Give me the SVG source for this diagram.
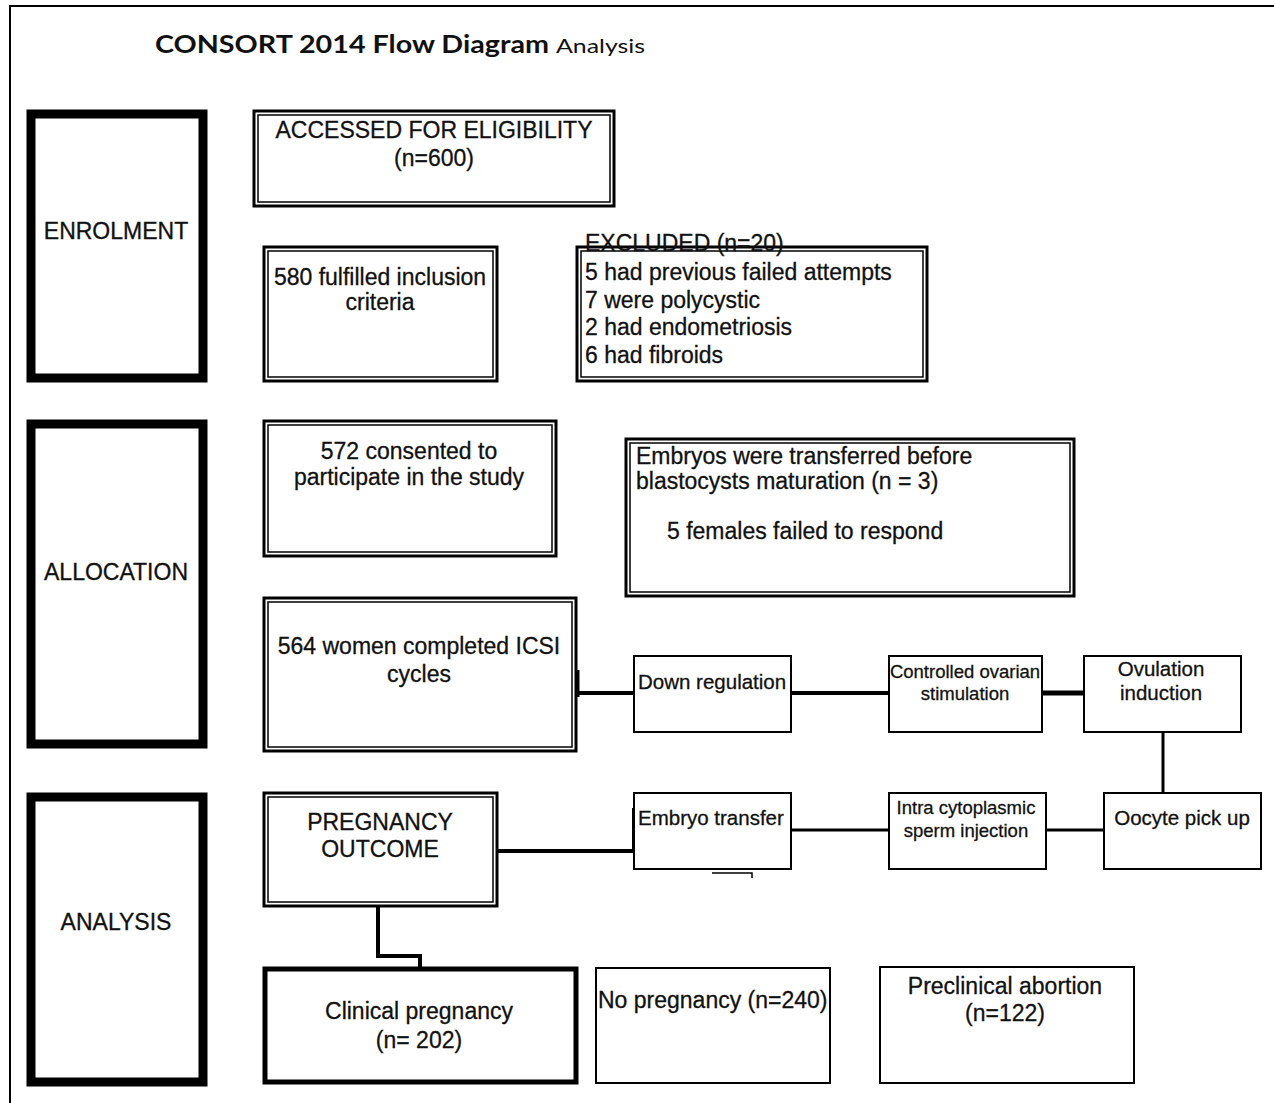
<svg xmlns="http://www.w3.org/2000/svg" width="1274" height="1103" viewBox="0 0 1274 1103">
<style>
text{font-family:"Liberation Sans",Arial,sans-serif;font-size:23px;fill:#111;stroke:#111;stroke-width:0.3}
.c{text-anchor:middle}
.s{font-size:20.5px}
.xs{font-size:18.5px}
.stage{fill:#fff;stroke:#000;stroke-width:9}
.thin{fill:#fff;stroke:#000;stroke-width:2}
.dbl-o{fill:#fff;stroke:#000;stroke-width:3}
.dbl-i{fill:none;stroke:#000;stroke-width:1.5}
.thick{fill:#fff;stroke:#000;stroke-width:5}
.conn{fill:none;stroke:#000;stroke-width:4}
.title{font-family:Lato,"Liberation Sans",sans-serif;font-weight:bold;font-size:25px;stroke:none}
</style>
<rect width="1274" height="1103" fill="#fff"/>
<path d="M10 1103 V6 H1274" fill="none" stroke="#000" stroke-width="2"/>
<text class="title" x="155" y="53" textLength="394" lengthAdjust="spacingAndGlyphs">CONSORT 2014 Flow Diagram</text>
<text x="556" y="53" style="font-family:Lato,'Liberation Sans',sans-serif;font-size:19px;stroke:none" textLength="89" lengthAdjust="spacingAndGlyphs">Analysis</text>

<g id="connectors">
<path class="conn" d="M577 693 H634"/>
<path class="conn" d="M577 670 V697" style="stroke-width:5"/>
<path class="conn" d="M791 693 H889"/>
<path class="conn" d="M1042 693 H1084" style="stroke-width:5"/>
<path class="conn" d="M1163 732 V792" style="stroke-width:3"/>
<path class="conn" d="M1104 830 H1046" style="stroke-width:3"/>
<path class="conn" d="M889 830 H791" style="stroke-width:3"/>
<path class="conn" d="M498 851 H634"/>
<path class="conn" d="M634 808 V853"/>
<path class="conn" d="M378 907 V956 H420 V967"/>
<path d="M712 873 H752 V878" fill="none" stroke="#000" stroke-width="1.5"/>
</g>

<g id="enrolment"><rect class="stage" x="31" y="114" width="172" height="264"/><text class="c" x="116" y="239">ENROLMENT</text></g>
<g id="allocation"><rect class="stage" x="31" y="424" width="172" height="320"/><text class="c" x="116" y="580">ALLOCATION</text></g>
<g id="analysis"><rect class="stage" x="31" y="797" width="172" height="285"/><text class="c" x="116" y="930">ANALYSIS</text></g>

<g id="accessed"><rect class="dbl-o" x="254" y="111" width="360" height="95"/><rect class="dbl-i" x="258" y="115" width="352" height="87"/>
<text class="c" x="434" y="138">ACCESSED FOR ELIGIBILITY</text><text class="c" x="434" y="166">(n=600)</text></g>

<g id="fulfilled"><rect class="dbl-o" x="264" y="247" width="233" height="134"/><rect class="dbl-i" x="268" y="251" width="225" height="126"/>
<text class="c" x="380" y="285">580 fulfilled inclusion</text><text class="c" x="380" y="310">criteria</text></g>

<g id="excluded"><rect class="dbl-o" x="577" y="247" width="350" height="134"/><rect class="dbl-i" x="581" y="251" width="342" height="126"/>
<text x="585" y="251">EXCLUDED (n=20)</text>
<text x="585" y="280">5 had previous failed attempts</text>
<text x="585" y="308">7 were polycystic</text>
<text x="585" y="335">2 had endometriosis</text>
<text x="585" y="363">6 had fibroids</text></g>

<g id="consented"><rect class="dbl-o" x="264" y="421" width="292" height="135"/><rect class="dbl-i" x="268" y="425" width="284" height="127"/>
<text class="c" x="409" y="459">572 consented to</text><text class="c" x="409" y="485">participate in the study</text></g>

<g id="embryos-excl"><rect class="dbl-o" x="626" y="439" width="448" height="157"/><rect class="dbl-i" x="630" y="443" width="440" height="149"/>
<text x="636" y="464">Embryos were transferred before</text>
<text x="636" y="489">blastocysts maturation (n = 3)</text>
<text x="667" y="539">5 females failed to respond</text></g>

<g id="completed"><rect class="dbl-o" x="264" y="598" width="312" height="153"/><rect class="dbl-i" x="268" y="602" width="304" height="145"/>
<text class="c" x="419" y="654">564 women completed ICSI</text><text class="c" x="419" y="682">cycles</text></g>

<g id="down-regulation"><rect class="thin" x="634" y="656" width="157" height="76"/><text class="s" x="638" y="689">Down regulation</text></g>
<g id="controlled"><rect class="thin" x="889" y="656" width="153" height="76"/><text class="c xs" x="965" y="678">Controlled ovarian</text><text class="c xs" x="965" y="700">stimulation</text></g>
<g id="ovulation"><rect class="thin" x="1084" y="656" width="157" height="76"/><text class="c s" x="1161" y="676">Ovulation</text><text class="c s" x="1161" y="700">induction</text></g>

<g id="oocyte"><rect class="thin" x="1104" y="793" width="157" height="76"/><text class="c s" x="1182" y="825">Oocyte pick up</text></g>
<g id="icsi"><rect class="thin" x="889" y="793" width="157" height="76"/><text class="c xs" x="966" y="814">Intra cytoplasmic</text><text class="c xs" x="966" y="837">sperm injection</text></g>
<g id="embryo-transfer"><rect class="thin" x="634" y="793" width="157" height="76"/><text class="s" x="638" y="825">Embryo transfer</text></g>

<g id="outcome"><rect class="dbl-o" x="264" y="793" width="233" height="113"/><rect class="dbl-i" x="268" y="797" width="225" height="105"/>
<text class="c" x="380" y="830">PREGNANCY</text><text class="c" x="380" y="857">OUTCOME</text></g>

<g id="clinical"><rect class="thick" x="265" y="969" width="311" height="113"/><text class="c" x="419" y="1019">Clinical pregnancy</text><text class="c" x="419" y="1048">(n= 202)</text></g>
<g id="no-pregnancy"><rect class="thin" x="596" y="968" width="234" height="115"/><text x="598" y="1008">No pregnancy (n=240)</text></g>
<g id="preclinical"><rect class="thin" x="880" y="967" width="254" height="116"/><text class="c" x="1005" y="994">Preclinical abortion</text><text class="c" x="1005" y="1021">(n=122)</text></g>
</svg>
